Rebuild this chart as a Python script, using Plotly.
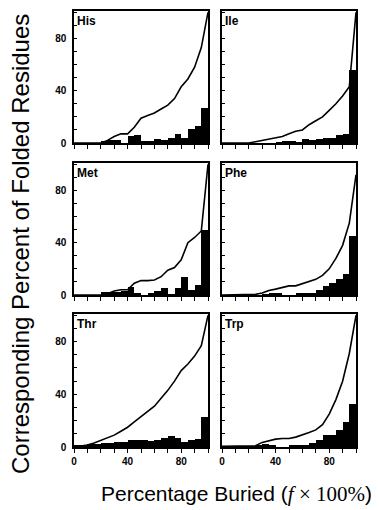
import plotly.graph_objects as go

# ---------------- data ----------------
residues = ["His", "Ile", "Met", "Phe", "Thr", "Trp"]
bin_edges = list(range(0, 101, 5))
bin_centers = [(a + b) / 2 for a, b in zip(bin_edges[:-1], bin_edges[1:])]
line_x = list(range(0, 101, 5))

his_bars = [0, 0, 0, 0, 1, 2, 2, 0, 5, 6, 1, 1, 3, 2, 4, 7, 4, 11, 13, 27]
his_line = [0, 0, 0, 0, 0, 2, 5, 7, 7, 12, 19, 21, 23, 26, 29, 34, 43, 49, 58, 73, 100]

ile_bars = [0, 0, 0, 0, 0, 0, 0, 0, 0.5, 1, 1, 0.5, 3, 2.5, 3, 4, 4, 6, 7, 56]
ile_line = [0, 0, 0, 0, 0, 1, 2, 3, 3.5, 5, 7, 9, 10, 14, 17, 20, 25, 30, 36, 43, 100]

met_bars = [0, 0, 0, 0, 2, 2, 2, 3, 6, 1, 0, 1, 3, 5, 0.5, 5, 14, 4, 8, 50]
met_line = [0, 0, 0, 0, 0, 1, 3, 4, 4, 9, 11, 11, 11.5, 14, 19, 21, 27, 40, 44, 49, 100]

phe_bars = [0, 0, 0, 0, 0, 0, 0.5, 1.5, 1, 0, 0, 1, 1.5, 1, 4, 7, 9, 12, 16, 45]
phe_line = [0, 0, 0, 0, 0, 0.5, 1.5, 3.5, 4.5, 5.5, 7, 7, 8.5, 10, 12, 15, 20, 28, 38, 55, 92]

thr_bars = [1, 1.5, 2, 2, 3, 3, 3.5, 4, 5, 5, 5, 4.5, 5, 7, 8, 7, 4, 5, 6, 23]
thr_line = [0, 0.5, 1.5, 3, 5, 7, 9, 12, 15, 19, 23, 27, 31, 37, 43, 50, 58, 63, 69, 77, 100]

trp_bars = [0.5, 0.5, 0.5, 0.5, 0.5, 1, 2, 1, 0, 0, 1, 1, 1.5, 3, 5, 9, 9, 13, 19, 33]
trp_line = [0.5, 0.5, 0.5, 0.5, 0.5, 1, 3.5, 5, 6, 6.5, 6.5, 7.5, 9, 11, 13, 17, 25, 36, 50, 71, 100]

bars = [his_bars, ile_bars, met_bars, phe_bars, thr_bars, trp_bars]
lines = [his_line, ile_line, met_line, phe_line, thr_line, trp_line]

y_tickvals = list(range(0, 101, 10))
y_ticktext = ["0", "", "", "", "40", "", "", "", "80", "", ""]
x_tickvals = list(range(0, 101, 10))
x_ticktext = ["0", "", "", "", "40", "", "", "", "80", "", ""]

# ---------------- layout geometry ----------------
W, H = 379, 510
col_px = [(74, 208), (222, 356)]
row_px = [(11, 143), (163, 295), (314, 447)]

fig = go.Figure()
layout = dict(
    width=W, height=H,
    margin=dict(l=0, r=0, t=0, b=0, autoexpand=False),
    paper_bgcolor="white", plot_bgcolor="white",
    showlegend=False, bargap=0,
    font=dict(family="Arial, Liberation Sans, sans-serif", color="black"),
)
annotations = []

for i, name in enumerate(residues):
    r, c = divmod(i, 2)
    ax = "" if i == 0 else str(i + 1)
    xa, ya = "x" + ax, "y" + ax
    fig.add_trace(go.Bar(x=bin_centers, y=bars[i], width=5, marker=dict(color="black", line=dict(width=0)),
                         xaxis=xa, yaxis=ya))
    fig.add_trace(go.Scatter(x=line_x, y=lines[i], mode="lines", line=dict(color="black", width=1.6),
                             xaxis=xa, yaxis=ya))
    x0, x1 = col_px[c]
    y0, y1 = row_px[r]
    layout["xaxis" + ax] = dict(
        domain=[x0 / W, x1 / W], range=[0, 100], anchor=ya, automargin=False,
        showline=True, mirror=True, linecolor="black", linewidth=1.5,
        showgrid=False, zeroline=False,
        tickmode="array", tickvals=x_tickvals,
        ticktext=x_ticktext if r == 2 else [""] * len(x_tickvals),
        ticks="outside", ticklen=4, tickwidth=1, tickcolor="black",
        tickfont=dict(size=10, weight="bold", family="Arial, Liberation Sans, sans-serif"),
    )
    layout["yaxis" + ax] = dict(
        domain=[1 - y1 / H, 1 - y0 / H], range=[0, 101], anchor=xa, automargin=False,
        showline=True, mirror=True, linecolor="black", linewidth=1.5,
        showgrid=False, zeroline=False,
        tickmode="array", tickvals=y_tickvals,
        ticktext=y_ticktext if c == 0 else [""] * len(y_tickvals),
        ticks="inside", ticklen=3, tickwidth=1, tickcolor="black",
        ticklabelstandoff=4,
        tickfont=dict(size=10, weight="bold", family="Arial, Liberation Sans, sans-serif"),
    )
    annotations.append(dict(
        text="<b>" + name + "</b>", xref=xa + " domain", yref=ya + " domain",
        x=0.01, y=0.99, xanchor="left", yanchor="top", showarrow=False,
        font=dict(size=12, color="black"),
    ))

annotations.append(dict(
    text="Corresponding Percent of Folded Residues", xref="paper", yref="paper",
    x=20 / W, y=1 - 244 / H, xanchor="center", yanchor="middle", textangle=-90,
    showarrow=False, font=dict(size=24, color="black"),
))
annotations.append(dict(
    text="Percentage Buried (<span style='font-family:Liberation Serif'><i>f</i> × 100%</span>)",
    xref="paper", yref="paper", x=236 / W, y=1 - 494 / H, xanchor="center", yanchor="middle",
    showarrow=False, font=dict(size=21, color="black"),
))
layout["annotations"] = annotations
fig.update_layout(**layout)
fig.write_html("out.html", config={"displayModeBar": False},
               post_script="document.body.style.margin='0';document.body.style.overflow='hidden';")
